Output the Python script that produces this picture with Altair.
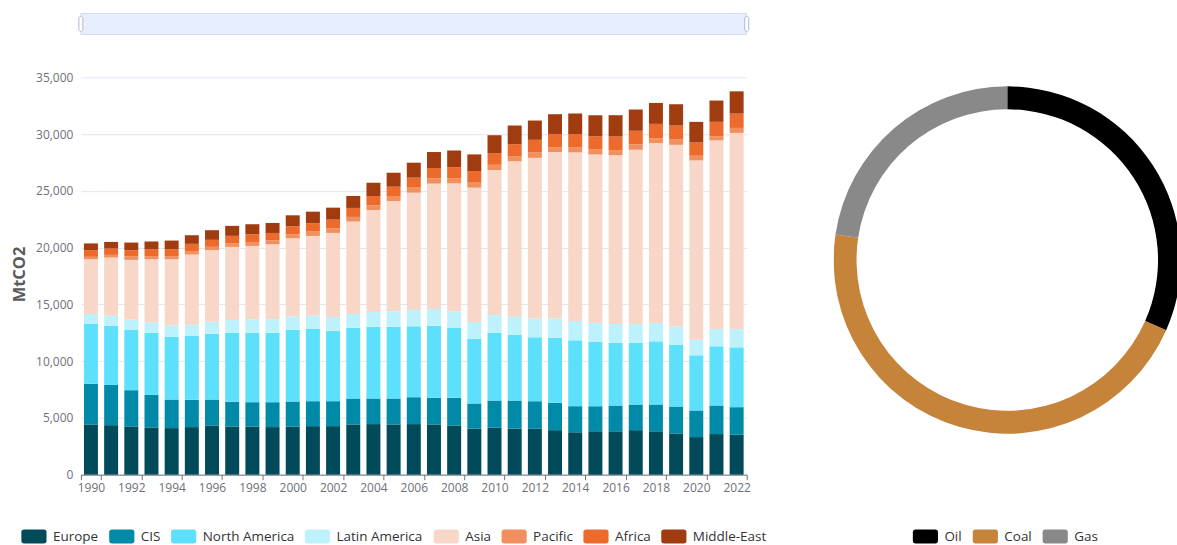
import altair as alt
import pandas as pd

# Emissions by region, MtCO2 (stacked bars) and by fuel (donut)
years = list(range(1990, 2023))
regions = ["Europe", "CIS", "North America", "Latin America", "Asia", "Pacific", "Africa", "Middle-East"]
region_colors = ["#004a5a", "#008aa8", "#5ce0fc", "#bdf2fd", "#f8d7c8", "#f28f5f", "#ec6a2c", "#a03c10"]

europe = [4420, 4360, 4250, 4160, 4100, 4190, 4335, 4245, 4245, 4190, 4220, 4275, 4275, 4425, 4455, 4425, 4455,
          4425, 4335, 4045, 4130, 4065, 4040, 3920, 3735, 3820, 3820, 3920, 3820, 3630, 3310, 3575, 3515]
cis = [3580, 3545, 3190, 2870, 2520, 2400, 2285, 2170, 2140, 2195, 2225, 2200, 2200, 2285, 2255, 2285, 2370,
       2345, 2430, 2225, 2400, 2465, 2430, 2405, 2300, 2210, 2270, 2260, 2360, 2370, 2345, 2520, 2430]
north_america = [5270, 5215, 5300, 5480, 5535, 5625, 5800, 6090, 6120, 6120, 6325, 6355, 6210, 6240, 6325, 6325, 6240,
                 6355, 6150, 5710, 5975, 5800, 5625, 5740, 5800, 5655, 5510, 5450, 5565, 5450, 4860, 5215, 5270]
latin_america = [880, 880, 910, 910, 995, 995, 1055, 1115, 1200, 1200, 1170, 1170, 1200, 1200, 1290, 1375, 1435,
                 1465, 1465, 1465, 1550, 1580, 1670, 1700, 1700, 1670, 1670, 1640, 1610, 1610, 1375, 1525, 1610]
asia = [4830, 5125, 5270, 5565, 5830, 6180, 6300, 6445, 6445, 6590, 6885, 7030, 7410, 8145, 8990, 9695, 10340,
        11045, 11275, 11835, 12770, 13710, 14145, 14645, 14850, 14850, 14880, 15350, 15845, 15995, 15790, 16605, 17280]
pacific = [210, 235, 295, 265, 265, 265, 295, 295, 350, 350, 350, 380, 410, 410, 410, 440, 440,
           470, 470, 440, 470, 440, 500, 440, 470, 440, 440, 470, 440, 470, 410, 380, 440]
africa = [590, 555, 555, 615, 615, 675, 615, 675, 680, 645, 705, 730, 760, 790, 820, 820, 880,
          910, 965, 1025, 1025, 1055, 1085, 1145, 1145, 1170, 1200, 1200, 1260, 1230, 1170, 1260, 1260]
middle_east = [590, 585, 675, 675, 760, 760, 850, 880, 880, 880, 965, 1025, 1055, 1055, 1170, 1230, 1320,
               1405, 1465, 1465, 1580, 1640, 1700, 1755, 1815, 1845, 1875, 1875, 1845, 1875, 1815, 1875, 1960]

fuels = ["Oil", "Coal", "Gas"]
fuel_values = [10680, 15440, 7650]
fuel_colors = ["#000000", "#c5843a", "#898989"]

FONT = "Open Sans"
AXIS_GREY = "#6e7079"
PLOT_W, PLOT_H = 667, 398
RING_OUTER, RING_INNER = 174, 151

# rounded-rectangle legend swatch (25 x 14 px at symbolSize 196)
SWATCH = ("M-1.4,-1L1.4,-1Q1.8,-1 1.8,-0.6L1.8,0.6Q1.8,1 1.4,1L-1.4,1Q-1.8,1 -1.8,0.6"
          "L-1.8,-0.6Q-1.8,-1 -1.4,-1Z")

series = [europe, cis, north_america, latin_america, asia, pacific, africa, middle_east]
rows = []
for i, (name, vals) in enumerate(zip(regions, series)):
    for yr, v in zip(years, vals):
        rows.append({"year": yr, "region": name, "rank": i, "value": v})
bars_df = pd.DataFrame(rows)

fuel_df = pd.DataFrame({"fuel": fuels, "value": fuel_values, "rank": list(range(len(fuels)))})


def swatch_legend(x, y):
    return alt.Legend(
        title=None, orient="none", direction="horizontal", legendX=x, legendY=y,
        symbolType=SWATCH, symbolSize=196, symbolStrokeWidth=0, symbolOpacity=1,
        labelFont=FONT, labelFontSize=13.5, labelColor="#333333", labelOffset=12,
        columnPadding=10,
    )


bars = alt.Chart(bars_df).mark_bar(width=14).encode(
    x=alt.X(
        "year:O",
        scale=alt.Scale(paddingInner=0, paddingOuter=0),
        axis=alt.Axis(
            values=years[::2], tickBand="extent", title=None, labelAngle=0, grid=False,
            domainColor=AXIS_GREY, tickColor=AXIS_GREY, tickSize=5,
            labelColor=AXIS_GREY, labelFontSize=12, labelPadding=3, labelFont=FONT,
        ),
    ),
    y=alt.Y(
        "value:Q",
        stack="zero",
        scale=alt.Scale(domain=[0, 35000], nice=False),
        axis=alt.Axis(
            values=list(range(0, 35001, 5000)), format=",.0f", domain=False, ticks=False, tickSize=0,
            gridColor="#e0e6f1", labelColor=AXIS_GREY, labelFontSize=12, labelPadding=8, labelFont=FONT,
            title="MtCO2", titleX=-56, titleY=197, titleAngle=270, titleAlign="center",
            titleBaseline="alphabetic", titleFontSize=16.5, titleFontWeight="bold",
            titleColor="#5a5a5a", titleFont=FONT,
        ),
    ),
    color=alt.Color(
        "region:N",
        scale=alt.Scale(domain=regions, range=region_colors),
        legend=swatch_legend(-54, 453),
    ),
    order=alt.Order("rank:Q", sort="ascending"),
)

# range slider above the bars
one = pd.DataFrame({"k": [0]})
track = alt.Chart(one).mark_rect(fill="#e7efff", stroke="#d2dbee", strokeWidth=1).encode(
    x=alt.value(0), x2=alt.value(PLOT_W), y=alt.value(-64), y2=alt.value(-43)
)
handle_left = alt.Chart(one).mark_rect(fill="#ffffff", stroke="#acb8d1", strokeWidth=1, cornerRadius=2).encode(
    x=alt.value(-2), x2=alt.value(2), y=alt.value(-61), y2=alt.value(-46)
)
handle_right = alt.Chart(one).mark_rect(fill="#ffffff", stroke="#acb8d1", strokeWidth=1, cornerRadius=2).encode(
    x=alt.value(PLOT_W - 2), x2=alt.value(PLOT_W + 2), y=alt.value(-61), y2=alt.value(-46)
)

bar_panel = alt.layer(track, handle_left, handle_right, bars).properties(width=PLOT_W, height=PLOT_H)

# ring runs a little past the right edge of the panel and is clipped there
donut = alt.Chart(fuel_df).mark_arc(innerRadius=RING_INNER, outerRadius=RING_OUTER, clip=True).encode(
    theta=alt.Theta("value:Q", stack=True),
    x=alt.value(RING_OUTER),
    y=alt.value(183),
    color=alt.Color(
        "fuel:N",
        scale=alt.Scale(domain=fuels, range=fuel_colors),
        legend=swatch_legend(85, 453),
    ),
    order=alt.Order("rank:Q", sort="ascending"),
).properties(width=344, height=366)

chart = (
    alt.hconcat(bar_panel, donut, spacing=67)
    .resolve_scale(color="independent")
    .properties(padding={"left": 12, "top": 12, "right": 0, "bottom": 0}, background="#ffffff")
    .configure_view(strokeWidth=0)
)

chart.save("out.html", embed_options={"renderer": "svg", "actions": False})
